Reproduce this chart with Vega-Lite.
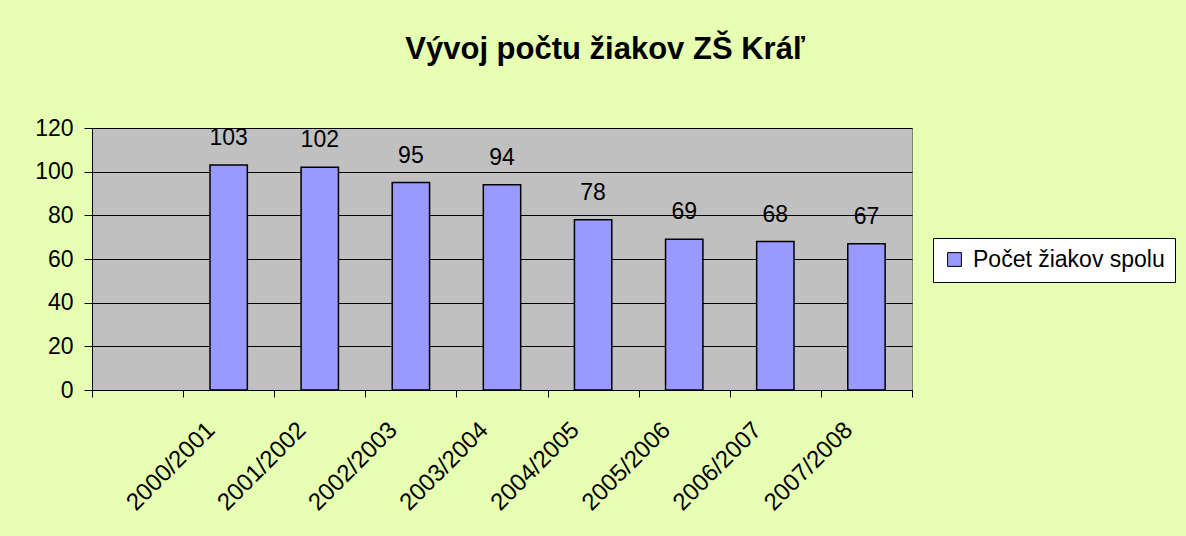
{
  "$schema": "https://vega.github.io/schema/vega-lite/v6.json",
  "width": 820,
  "height": 262,
  "autosize": {"type": "none"},
  "padding": {"left": 92, "top": 128, "right": 274, "bottom": 146},
  "background": "#E6FFB2",
  "title": {
    "text": "Vývoj počtu žiakov ZŠ Kráľ",
    "font": "Liberation Sans",
    "fontSize": 31,
    "fontWeight": "bold",
    "color": "black",
    "anchor": "middle",
    "frame": "bounds",
    "offset": 51
  },
  "config": {
    "view": {"fill": "#C0C0C0", "stroke": "#808080", "strokeWidth": 1},
    "font": "Liberation Sans"
  },
  "data": {
    "values": [
      {"year": "2000/2001", "count": 103},
      {"year": "2001/2002", "count": 102},
      {"year": "2002/2003", "count": 95},
      {"year": "2003/2004", "count": 94},
      {"year": "2004/2005", "count": 78},
      {"year": "2005/2006", "count": 69},
      {"year": "2006/2007", "count": 68},
      {"year": "2007/2008", "count": 67}
    ]
  },
  "encoding": {
    "x": {
      "field": "year",
      "type": "nominal",
      "title": null,
      "scale": {
        "domain": [" ", "2000/2001", "2001/2002", "2002/2003", "2003/2004", "2004/2005", "2005/2006", "2006/2007", "2007/2008"],
        "paddingInner": 0,
        "paddingOuter": 0
      },
      "axis": {
        "labelAngle": -45,
        "labelAlign": "right",
        "labelBaseline": "middle",
        "labelFontSize": 24,
        "labelColor": "black",
        "labelPadding": 29,
        "labelOffset": -18,
        "tickBand": "extent",
        "tickSize": 7,
        "tickColor": "black",
        "domainColor": "black",
        "grid": false
      }
    },
    "y": {
      "field": "count",
      "type": "quantitative",
      "title": null,
      "scale": {"domain": [0, 120]},
      "axis": {
        "values": [0, 20, 40, 60, 80, 100, 120],
        "grid": true,
        "gridColor": "black",
        "gridOpacity": 1,
        "domainColor": "black",
        "tickColor": "black",
        "tickSize": 8,
        "labelPadding": 11,
        "labelFontSize": 23,
        "labelColor": "black"
      }
    }
  },
  "layer": [
    {
      "mark": {"type": "bar", "width": {"band": 0.41}, "stroke": "black", "strokeWidth": 1.5},
      "encoding": {
        "color": {
          "datum": "Počet žiakov spolu",
          "scale": {"range": ["#9999FF"]},
          "legend": {
            "orient": "none",
            "legendX": 841,
            "legendY": 110,
            "title": null,
            "fillColor": "white",
            "strokeColor": "black",
            "padding": 10,
            "labelFontSize": 23,
            "labelColor": "black",
            "labelFont": "Liberation Sans",
            "labelLimit": 0,
            "labelOffset": 7,
            "symbolType": "square",
            "symbolSize": 190,
            "symbolStrokeColor": "black",
            "symbolStrokeWidth": 1
          }
        }
      }
    },
    {
      "mark": {"type": "text", "dy": -20, "baseline": "alphabetic", "fontSize": 23, "color": "black"},
      "encoding": {"text": {"field": "count", "type": "quantitative"}}
    }
  ]
}
